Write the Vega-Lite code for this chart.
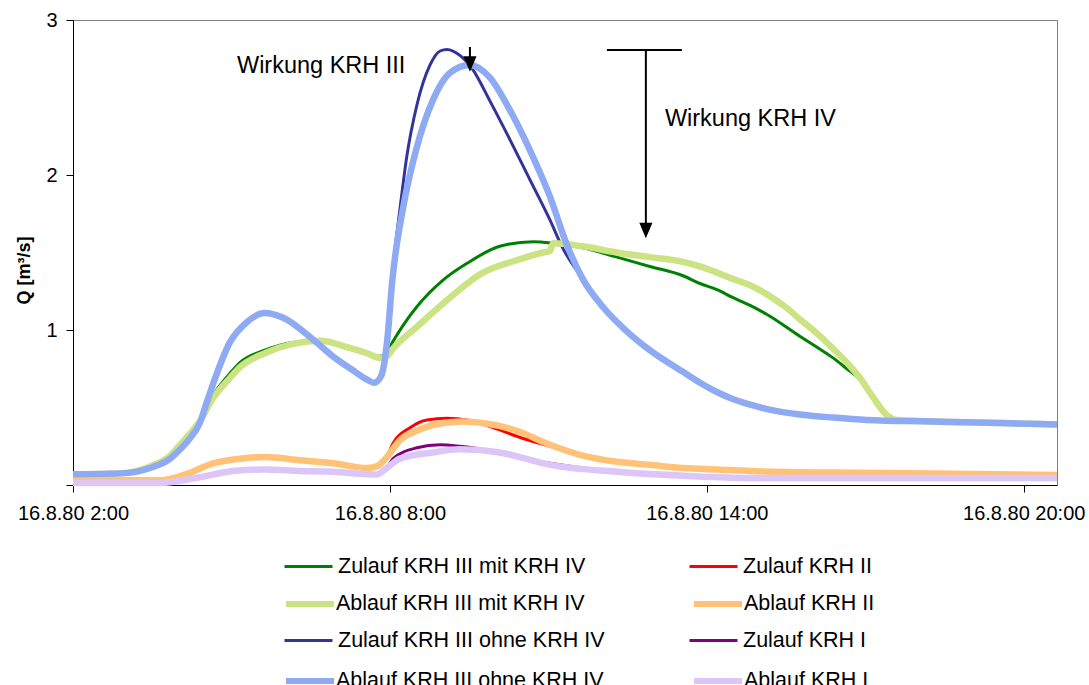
{
  "$schema": "https://vega.github.io/schema/vega-lite/v6.json",
  "width": 984,
  "height": 465,
  "autosize": {"type": "none"},
  "padding": {"left": 73, "top": 20, "right": 32, "bottom": 200},
  "background": "white",
  "config": {
    "view": {"stroke": "#808080", "strokeWidth": 1},
    "font": "Liberation Sans",
    "legend": {
      "orient": "none",
      "legendX": 210,
      "columns": 2,
      "symbolType": "stroke",
      "symbolSize": 2304,
      "symbolOpacity": 1,
      "labelFont": "Liberation Sans",
      "labelFontSize": 21.5,
      "labelColor": "black",
      "labelLimit": 500,
      "rowPadding": 38,
      "columnPadding": 78,
      "padding": 0,
      "title": null
    }
  },
  "datasets": {
    "zulauf": [
      {"s": "Zulauf KRH III mit KRH IV", "t": 2.00, "q": 0.07},
      {"s": "Zulauf KRH III mit KRH IV", "t": 2.89, "q": 0.075},
      {"s": "Zulauf KRH III mit KRH IV", "t": 3.46, "q": 0.12},
      {"s": "Zulauf KRH III mit KRH IV", "t": 3.84, "q": 0.19},
      {"s": "Zulauf KRH III mit KRH IV", "t": 4.03, "q": 0.25},
      {"s": "Zulauf KRH III mit KRH IV", "t": 4.21, "q": 0.33},
      {"s": "Zulauf KRH III mit KRH IV", "t": 4.40, "q": 0.42},
      {"s": "Zulauf KRH III mit KRH IV", "t": 4.65, "q": 0.58},
      {"s": "Zulauf KRH III mit KRH IV", "t": 4.97, "q": 0.72},
      {"s": "Zulauf KRH III mit KRH IV", "t": 5.16, "q": 0.79},
      {"s": "Zulauf KRH III mit KRH IV", "t": 5.63, "q": 0.87},
      {"s": "Zulauf KRH III mit KRH IV", "t": 6.16, "q": 0.92},
      {"s": "Zulauf KRH III mit KRH IV", "t": 6.68, "q": 0.93},
      {"s": "Zulauf KRH III mit KRH IV", "t": 7.19, "q": 0.88},
      {"s": "Zulauf KRH III mit KRH IV", "t": 7.57, "q": 0.85},
      {"s": "Zulauf KRH III mit KRH IV", "t": 7.81, "q": 0.83},
      {"s": "Zulauf KRH III mit KRH IV", "t": 7.94, "q": 0.85},
      {"s": "Zulauf KRH III mit KRH IV", "t": 8.00, "q": 0.89},
      {"s": "Zulauf KRH III mit KRH IV", "t": 8.25, "q": 1.03},
      {"s": "Zulauf KRH III mit KRH IV", "t": 8.51, "q": 1.15},
      {"s": "Zulauf KRH III mit KRH IV", "t": 9.00, "q": 1.32},
      {"s": "Zulauf KRH III mit KRH IV", "t": 9.46, "q": 1.43},
      {"s": "Zulauf KRH III mit KRH IV", "t": 10.08, "q": 1.54},
      {"s": "Zulauf KRH III mit KRH IV", "t": 10.71, "q": 1.57},
      {"s": "Zulauf KRH III mit KRH IV", "t": 11.09, "q": 1.56},
      {"s": "Zulauf KRH III mit KRH IV", "t": 11.65, "q": 1.53},
      {"s": "Zulauf KRH III mit KRH IV", "t": 12.30, "q": 1.47},
      {"s": "Zulauf KRH III mit KRH IV", "t": 12.92, "q": 1.41},
      {"s": "Zulauf KRH III mit KRH IV", "t": 13.55, "q": 1.35},
      {"s": "Zulauf KRH III mit KRH IV", "t": 13.87, "q": 1.30},
      {"s": "Zulauf KRH III mit KRH IV", "t": 14.19, "q": 1.26},
      {"s": "Zulauf KRH III mit KRH IV", "t": 14.49, "q": 1.21},
      {"s": "Zulauf KRH III mit KRH IV", "t": 14.81, "q": 1.16},
      {"s": "Zulauf KRH III mit KRH IV", "t": 15.14, "q": 1.10},
      {"s": "Zulauf KRH III mit KRH IV", "t": 15.76, "q": 0.96},
      {"s": "Zulauf KRH III mit KRH IV", "t": 16.08, "q": 0.89},
      {"s": "Zulauf KRH III mit KRH IV", "t": 16.39, "q": 0.82},
      {"s": "Zulauf KRH III mit KRH IV", "t": 16.65, "q": 0.75},
      {"s": "Zulauf KRH III mit KRH IV", "t": 16.90, "q": 0.68},
      {"s": "Zulauf KRH III mit KRH IV", "t": 17.14, "q": 0.57},
      {"s": "Zulauf KRH III mit KRH IV", "t": 17.41, "q": 0.45},
      {"s": "Zulauf KRH III mit KRH IV", "t": 17.60, "q": 0.42},
      {"s": "Zulauf KRH III mit KRH IV", "t": 18.28, "q": 0.41},
      {"s": "Zulauf KRH III mit KRH IV", "t": 19.55, "q": 0.40},
      {"s": "Zulauf KRH III mit KRH IV", "t": 20.63, "q": 0.39},

      {"s": "Zulauf KRH III ohne KRH IV", "t": 2.00, "q": 0.07},
      {"s": "Zulauf KRH III ohne KRH IV", "t": 2.89, "q": 0.075},
      {"s": "Zulauf KRH III ohne KRH IV", "t": 3.46, "q": 0.11},
      {"s": "Zulauf KRH III ohne KRH IV", "t": 3.84, "q": 0.17},
      {"s": "Zulauf KRH III ohne KRH IV", "t": 4.03, "q": 0.23},
      {"s": "Zulauf KRH III ohne KRH IV", "t": 4.21, "q": 0.30},
      {"s": "Zulauf KRH III ohne KRH IV", "t": 4.40, "q": 0.40},
      {"s": "Zulauf KRH III ohne KRH IV", "t": 4.52, "q": 0.52},
      {"s": "Zulauf KRH III ohne KRH IV", "t": 4.65, "q": 0.65},
      {"s": "Zulauf KRH III ohne KRH IV", "t": 4.97, "q": 0.92},
      {"s": "Zulauf KRH III ohne KRH IV", "t": 5.29, "q": 1.05},
      {"s": "Zulauf KRH III ohne KRH IV", "t": 5.63, "q": 1.11},
      {"s": "Zulauf KRH III ohne KRH IV", "t": 5.97, "q": 1.08},
      {"s": "Zulauf KRH III ohne KRH IV", "t": 6.54, "q": 0.94},
      {"s": "Zulauf KRH III ohne KRH IV", "t": 6.92, "q": 0.83},
      {"s": "Zulauf KRH III ohne KRH IV", "t": 7.30, "q": 0.74},
      {"s": "Zulauf KRH III ohne KRH IV", "t": 7.57, "q": 0.68},
      {"s": "Zulauf KRH III ohne KRH IV", "t": 7.70, "q": 0.66},
      {"s": "Zulauf KRH III ohne KRH IV", "t": 7.83, "q": 0.70},
      {"s": "Zulauf KRH III ohne KRH IV", "t": 7.90, "q": 0.80},
      {"s": "Zulauf KRH III ohne KRH IV", "t": 7.96, "q": 0.99},
      {"s": "Zulauf KRH III ohne KRH IV", "t": 8.02, "q": 1.25},
      {"s": "Zulauf KRH III ohne KRH IV", "t": 8.09, "q": 1.50},
      {"s": "Zulauf KRH III ohne KRH IV", "t": 8.19, "q": 1.78},
      {"s": "Zulauf KRH III ohne KRH IV", "t": 8.32, "q": 2.12},
      {"s": "Zulauf KRH III ohne KRH IV", "t": 8.51, "q": 2.45},
      {"s": "Zulauf KRH III ohne KRH IV", "t": 8.76, "q": 2.71},
      {"s": "Zulauf KRH III ohne KRH IV", "t": 8.95, "q": 2.80},
      {"s": "Zulauf KRH III ohne KRH IV", "t": 9.08, "q": 2.81},
      {"s": "Zulauf KRH III ohne KRH IV", "t": 9.33, "q": 2.77},
      {"s": "Zulauf KRH III ohne KRH IV", "t": 9.57, "q": 2.68},
      {"s": "Zulauf KRH III ohne KRH IV", "t": 9.89, "q": 2.48},
      {"s": "Zulauf KRH III ohne KRH IV", "t": 10.27, "q": 2.23},
      {"s": "Zulauf KRH III ohne KRH IV", "t": 10.65, "q": 1.97},
      {"s": "Zulauf KRH III ohne KRH IV", "t": 11.03, "q": 1.71},
      {"s": "Zulauf KRH III ohne KRH IV", "t": 11.27, "q": 1.53},
      {"s": "Zulauf KRH III ohne KRH IV", "t": 11.65, "q": 1.33},
      {"s": "Zulauf KRH III ohne KRH IV", "t": 12.03, "q": 1.15},
      {"s": "Zulauf KRH III ohne KRH IV", "t": 12.49, "q": 0.99},
      {"s": "Zulauf KRH III ohne KRH IV", "t": 12.92, "q": 0.87},
      {"s": "Zulauf KRH III ohne KRH IV", "t": 13.55, "q": 0.73},
      {"s": "Zulauf KRH III ohne KRH IV", "t": 13.87, "q": 0.66},
      {"s": "Zulauf KRH III ohne KRH IV", "t": 14.19, "q": 0.60},
      {"s": "Zulauf KRH III ohne KRH IV", "t": 14.49, "q": 0.555},
      {"s": "Zulauf KRH III ohne KRH IV", "t": 14.81, "q": 0.52},
      {"s": "Zulauf KRH III ohne KRH IV", "t": 15.14, "q": 0.49},
      {"s": "Zulauf KRH III ohne KRH IV", "t": 15.76, "q": 0.455},
      {"s": "Zulauf KRH III ohne KRH IV", "t": 16.39, "q": 0.435},
      {"s": "Zulauf KRH III ohne KRH IV", "t": 17.03, "q": 0.42},
      {"s": "Zulauf KRH III ohne KRH IV", "t": 18.28, "q": 0.41},
      {"s": "Zulauf KRH III ohne KRH IV", "t": 19.55, "q": 0.40},
      {"s": "Zulauf KRH III ohne KRH IV", "t": 20.63, "q": 0.39},

      {"s": "Zulauf KRH II", "t": 2.00, "q": 0.03},
      {"s": "Zulauf KRH II", "t": 3.65, "q": 0.03},
      {"s": "Zulauf KRH II", "t": 4.14, "q": 0.07},
      {"s": "Zulauf KRH II", "t": 4.65, "q": 0.14},
      {"s": "Zulauf KRH II", "t": 5.16, "q": 0.17},
      {"s": "Zulauf KRH II", "t": 5.63, "q": 0.18},
      {"s": "Zulauf KRH II", "t": 6.30, "q": 0.16},
      {"s": "Zulauf KRH II", "t": 6.92, "q": 0.14},
      {"s": "Zulauf KRH II", "t": 7.57, "q": 0.11},
      {"s": "Zulauf KRH II", "t": 7.75, "q": 0.12},
      {"s": "Zulauf KRH II", "t": 7.94, "q": 0.18},
      {"s": "Zulauf KRH II", "t": 8.06, "q": 0.27},
      {"s": "Zulauf KRH II", "t": 8.38, "q": 0.37},
      {"s": "Zulauf KRH II", "t": 8.70, "q": 0.42},
      {"s": "Zulauf KRH II", "t": 9.08, "q": 0.43},
      {"s": "Zulauf KRH II", "t": 9.46, "q": 0.42},
      {"s": "Zulauf KRH II", "t": 9.95, "q": 0.37},
      {"s": "Zulauf KRH II", "t": 10.52, "q": 0.30},
      {"s": "Zulauf KRH II", "t": 11.03, "q": 0.25},
      {"s": "Zulauf KRH II", "t": 11.65, "q": 0.19},
      {"s": "Zulauf KRH II", "t": 12.30, "q": 0.15},
      {"s": "Zulauf KRH II", "t": 12.92, "q": 0.13},
      {"s": "Zulauf KRH II", "t": 13.55, "q": 0.11},
      {"s": "Zulauf KRH II", "t": 14.19, "q": 0.10},
      {"s": "Zulauf KRH II", "t": 14.81, "q": 0.09},
      {"s": "Zulauf KRH II", "t": 16.39, "q": 0.08},
      {"s": "Zulauf KRH II", "t": 18.28, "q": 0.075},
      {"s": "Zulauf KRH II", "t": 20.63, "q": 0.065},

      {"s": "Zulauf KRH I", "t": 2.00, "q": 0.013},
      {"s": "Zulauf KRH I", "t": 3.65, "q": 0.013},
      {"s": "Zulauf KRH I", "t": 4.40, "q": 0.05},
      {"s": "Zulauf KRH I", "t": 5.03, "q": 0.09},
      {"s": "Zulauf KRH I", "t": 5.63, "q": 0.10},
      {"s": "Zulauf KRH I", "t": 6.30, "q": 0.09},
      {"s": "Zulauf KRH I", "t": 6.92, "q": 0.085},
      {"s": "Zulauf KRH I", "t": 7.57, "q": 0.07},
      {"s": "Zulauf KRH I", "t": 7.75, "q": 0.068},
      {"s": "Zulauf KRH I", "t": 7.94, "q": 0.11},
      {"s": "Zulauf KRH I", "t": 8.06, "q": 0.17},
      {"s": "Zulauf KRH I", "t": 8.51, "q": 0.24},
      {"s": "Zulauf KRH I", "t": 8.95, "q": 0.26},
      {"s": "Zulauf KRH I", "t": 9.33, "q": 0.25},
      {"s": "Zulauf KRH I", "t": 10.08, "q": 0.21},
      {"s": "Zulauf KRH I", "t": 10.71, "q": 0.16},
      {"s": "Zulauf KRH I", "t": 11.22, "q": 0.13},
      {"s": "Zulauf KRH I", "t": 12.30, "q": 0.085},
      {"s": "Zulauf KRH I", "t": 13.55, "q": 0.06},
      {"s": "Zulauf KRH I", "t": 14.81, "q": 0.045},
      {"s": "Zulauf KRH I", "t": 17.03, "q": 0.045},
      {"s": "Zulauf KRH I", "t": 20.63, "q": 0.045}
    ],
    "ablauf": [
      {"s": "Ablauf KRH III mit KRH IV", "t": 2.00, "q": 0.07},
      {"s": "Ablauf KRH III mit KRH IV", "t": 2.89, "q": 0.075},
      {"s": "Ablauf KRH III mit KRH IV", "t": 3.46, "q": 0.12},
      {"s": "Ablauf KRH III mit KRH IV", "t": 3.84, "q": 0.19},
      {"s": "Ablauf KRH III mit KRH IV", "t": 4.03, "q": 0.26},
      {"s": "Ablauf KRH III mit KRH IV", "t": 4.21, "q": 0.33},
      {"s": "Ablauf KRH III mit KRH IV", "t": 4.40, "q": 0.41},
      {"s": "Ablauf KRH III mit KRH IV", "t": 4.65, "q": 0.56},
      {"s": "Ablauf KRH III mit KRH IV", "t": 4.97, "q": 0.69},
      {"s": "Ablauf KRH III mit KRH IV", "t": 5.16, "q": 0.76},
      {"s": "Ablauf KRH III mit KRH IV", "t": 5.63, "q": 0.85},
      {"s": "Ablauf KRH III mit KRH IV", "t": 6.16, "q": 0.91},
      {"s": "Ablauf KRH III mit KRH IV", "t": 6.68, "q": 0.93},
      {"s": "Ablauf KRH III mit KRH IV", "t": 7.19, "q": 0.89},
      {"s": "Ablauf KRH III mit KRH IV", "t": 7.57, "q": 0.85},
      {"s": "Ablauf KRH III mit KRH IV", "t": 7.81, "q": 0.82},
      {"s": "Ablauf KRH III mit KRH IV", "t": 7.94, "q": 0.83},
      {"s": "Ablauf KRH III mit KRH IV", "t": 8.06, "q": 0.88},
      {"s": "Ablauf KRH III mit KRH IV", "t": 8.51, "q": 1.02},
      {"s": "Ablauf KRH III mit KRH IV", "t": 9.14, "q": 1.21},
      {"s": "Ablauf KRH III mit KRH IV", "t": 9.76, "q": 1.37},
      {"s": "Ablauf KRH III mit KRH IV", "t": 10.40, "q": 1.45},
      {"s": "Ablauf KRH III mit KRH IV", "t": 10.90, "q": 1.50},
      {"s": "Ablauf KRH III mit KRH IV", "t": 11.03, "q": 1.51},
      {"s": "Ablauf KRH III mit KRH IV", "t": 11.09, "q": 1.56},
      {"s": "Ablauf KRH III mit KRH IV", "t": 11.65, "q": 1.54},
      {"s": "Ablauf KRH III mit KRH IV", "t": 12.30, "q": 1.50},
      {"s": "Ablauf KRH III mit KRH IV", "t": 12.92, "q": 1.47},
      {"s": "Ablauf KRH III mit KRH IV", "t": 13.55, "q": 1.44},
      {"s": "Ablauf KRH III mit KRH IV", "t": 13.87, "q": 1.41},
      {"s": "Ablauf KRH III mit KRH IV", "t": 14.19, "q": 1.37},
      {"s": "Ablauf KRH III mit KRH IV", "t": 14.49, "q": 1.33},
      {"s": "Ablauf KRH III mit KRH IV", "t": 14.81, "q": 1.29},
      {"s": "Ablauf KRH III mit KRH IV", "t": 15.14, "q": 1.23},
      {"s": "Ablauf KRH III mit KRH IV", "t": 15.52, "q": 1.14},
      {"s": "Ablauf KRH III mit KRH IV", "t": 15.76, "q": 1.07},
      {"s": "Ablauf KRH III mit KRH IV", "t": 16.08, "q": 0.98},
      {"s": "Ablauf KRH III mit KRH IV", "t": 16.39, "q": 0.88},
      {"s": "Ablauf KRH III mit KRH IV", "t": 16.65, "q": 0.79},
      {"s": "Ablauf KRH III mit KRH IV", "t": 16.90, "q": 0.69},
      {"s": "Ablauf KRH III mit KRH IV", "t": 17.14, "q": 0.57},
      {"s": "Ablauf KRH III mit KRH IV", "t": 17.41, "q": 0.45},
      {"s": "Ablauf KRH III mit KRH IV", "t": 17.60, "q": 0.42},
      {"s": "Ablauf KRH III mit KRH IV", "t": 18.28, "q": 0.41},
      {"s": "Ablauf KRH III mit KRH IV", "t": 19.55, "q": 0.40},
      {"s": "Ablauf KRH III mit KRH IV", "t": 20.63, "q": 0.39},

      {"s": "Ablauf KRH II", "t": 2.00, "q": 0.03},
      {"s": "Ablauf KRH II", "t": 3.65, "q": 0.03},
      {"s": "Ablauf KRH II", "t": 4.14, "q": 0.07},
      {"s": "Ablauf KRH II", "t": 4.65, "q": 0.14},
      {"s": "Ablauf KRH II", "t": 5.16, "q": 0.17},
      {"s": "Ablauf KRH II", "t": 5.63, "q": 0.18},
      {"s": "Ablauf KRH II", "t": 6.30, "q": 0.16},
      {"s": "Ablauf KRH II", "t": 6.92, "q": 0.14},
      {"s": "Ablauf KRH II", "t": 7.57, "q": 0.11},
      {"s": "Ablauf KRH II", "t": 7.75, "q": 0.12},
      {"s": "Ablauf KRH II", "t": 7.94, "q": 0.18},
      {"s": "Ablauf KRH II", "t": 8.19, "q": 0.29},
      {"s": "Ablauf KRH II", "t": 8.51, "q": 0.35},
      {"s": "Ablauf KRH II", "t": 9.00, "q": 0.40},
      {"s": "Ablauf KRH II", "t": 9.38, "q": 0.41},
      {"s": "Ablauf KRH II", "t": 9.76, "q": 0.40},
      {"s": "Ablauf KRH II", "t": 10.40, "q": 0.35},
      {"s": "Ablauf KRH II", "t": 11.03, "q": 0.26},
      {"s": "Ablauf KRH II", "t": 11.65, "q": 0.19},
      {"s": "Ablauf KRH II", "t": 12.30, "q": 0.15},
      {"s": "Ablauf KRH II", "t": 12.92, "q": 0.13},
      {"s": "Ablauf KRH II", "t": 13.55, "q": 0.11},
      {"s": "Ablauf KRH II", "t": 14.19, "q": 0.10},
      {"s": "Ablauf KRH II", "t": 14.81, "q": 0.09},
      {"s": "Ablauf KRH II", "t": 16.39, "q": 0.08},
      {"s": "Ablauf KRH II", "t": 18.28, "q": 0.075},
      {"s": "Ablauf KRH II", "t": 20.63, "q": 0.065},

      {"s": "Ablauf KRH III ohne KRH IV", "t": 2.00, "q": 0.07},
      {"s": "Ablauf KRH III ohne KRH IV", "t": 2.89, "q": 0.075},
      {"s": "Ablauf KRH III ohne KRH IV", "t": 3.46, "q": 0.11},
      {"s": "Ablauf KRH III ohne KRH IV", "t": 3.84, "q": 0.17},
      {"s": "Ablauf KRH III ohne KRH IV", "t": 4.03, "q": 0.23},
      {"s": "Ablauf KRH III ohne KRH IV", "t": 4.21, "q": 0.30},
      {"s": "Ablauf KRH III ohne KRH IV", "t": 4.40, "q": 0.40},
      {"s": "Ablauf KRH III ohne KRH IV", "t": 4.52, "q": 0.52},
      {"s": "Ablauf KRH III ohne KRH IV", "t": 4.65, "q": 0.65},
      {"s": "Ablauf KRH III ohne KRH IV", "t": 4.97, "q": 0.92},
      {"s": "Ablauf KRH III ohne KRH IV", "t": 5.29, "q": 1.05},
      {"s": "Ablauf KRH III ohne KRH IV", "t": 5.63, "q": 1.11},
      {"s": "Ablauf KRH III ohne KRH IV", "t": 5.97, "q": 1.08},
      {"s": "Ablauf KRH III ohne KRH IV", "t": 6.54, "q": 0.94},
      {"s": "Ablauf KRH III ohne KRH IV", "t": 6.92, "q": 0.83},
      {"s": "Ablauf KRH III ohne KRH IV", "t": 7.30, "q": 0.74},
      {"s": "Ablauf KRH III ohne KRH IV", "t": 7.57, "q": 0.68},
      {"s": "Ablauf KRH III ohne KRH IV", "t": 7.70, "q": 0.66},
      {"s": "Ablauf KRH III ohne KRH IV", "t": 7.83, "q": 0.70},
      {"s": "Ablauf KRH III ohne KRH IV", "t": 7.90, "q": 0.80},
      {"s": "Ablauf KRH III ohne KRH IV", "t": 7.96, "q": 0.97},
      {"s": "Ablauf KRH III ohne KRH IV", "t": 8.04, "q": 1.30},
      {"s": "Ablauf KRH III ohne KRH IV", "t": 8.09, "q": 1.45},
      {"s": "Ablauf KRH III ohne KRH IV", "t": 8.25, "q": 1.79},
      {"s": "Ablauf KRH III ohne KRH IV", "t": 8.51, "q": 2.18},
      {"s": "Ablauf KRH III ohne KRH IV", "t": 8.81, "q": 2.48},
      {"s": "Ablauf KRH III ohne KRH IV", "t": 9.14, "q": 2.66},
      {"s": "Ablauf KRH III ohne KRH IV", "t": 9.51, "q": 2.71},
      {"s": "Ablauf KRH III ohne KRH IV", "t": 9.89, "q": 2.63},
      {"s": "Ablauf KRH III ohne KRH IV", "t": 10.27, "q": 2.42},
      {"s": "Ablauf KRH III ohne KRH IV", "t": 10.65, "q": 2.16},
      {"s": "Ablauf KRH III ohne KRH IV", "t": 11.03, "q": 1.86},
      {"s": "Ablauf KRH III ohne KRH IV", "t": 11.35, "q": 1.55},
      {"s": "Ablauf KRH III ohne KRH IV", "t": 11.65, "q": 1.33},
      {"s": "Ablauf KRH III ohne KRH IV", "t": 12.03, "q": 1.15},
      {"s": "Ablauf KRH III ohne KRH IV", "t": 12.49, "q": 0.99},
      {"s": "Ablauf KRH III ohne KRH IV", "t": 12.92, "q": 0.87},
      {"s": "Ablauf KRH III ohne KRH IV", "t": 13.55, "q": 0.73},
      {"s": "Ablauf KRH III ohne KRH IV", "t": 13.87, "q": 0.66},
      {"s": "Ablauf KRH III ohne KRH IV", "t": 14.19, "q": 0.60},
      {"s": "Ablauf KRH III ohne KRH IV", "t": 14.49, "q": 0.555},
      {"s": "Ablauf KRH III ohne KRH IV", "t": 14.81, "q": 0.52},
      {"s": "Ablauf KRH III ohne KRH IV", "t": 15.14, "q": 0.49},
      {"s": "Ablauf KRH III ohne KRH IV", "t": 15.76, "q": 0.455},
      {"s": "Ablauf KRH III ohne KRH IV", "t": 16.39, "q": 0.435},
      {"s": "Ablauf KRH III ohne KRH IV", "t": 17.03, "q": 0.42},
      {"s": "Ablauf KRH III ohne KRH IV", "t": 18.28, "q": 0.41},
      {"s": "Ablauf KRH III ohne KRH IV", "t": 19.55, "q": 0.40},
      {"s": "Ablauf KRH III ohne KRH IV", "t": 20.63, "q": 0.39},

      {"s": "Ablauf KRH I", "t": 2.00, "q": 0.013},
      {"s": "Ablauf KRH I", "t": 3.65, "q": 0.013},
      {"s": "Ablauf KRH I", "t": 4.40, "q": 0.05},
      {"s": "Ablauf KRH I", "t": 5.03, "q": 0.09},
      {"s": "Ablauf KRH I", "t": 5.63, "q": 0.10},
      {"s": "Ablauf KRH I", "t": 6.30, "q": 0.09},
      {"s": "Ablauf KRH I", "t": 6.92, "q": 0.085},
      {"s": "Ablauf KRH I", "t": 7.57, "q": 0.07},
      {"s": "Ablauf KRH I", "t": 7.75, "q": 0.068},
      {"s": "Ablauf KRH I", "t": 7.94, "q": 0.11},
      {"s": "Ablauf KRH I", "t": 8.19, "q": 0.17},
      {"s": "Ablauf KRH I", "t": 8.81, "q": 0.21},
      {"s": "Ablauf KRH I", "t": 9.33, "q": 0.23},
      {"s": "Ablauf KRH I", "t": 10.08, "q": 0.21},
      {"s": "Ablauf KRH I", "t": 11.03, "q": 0.13},
      {"s": "Ablauf KRH I", "t": 12.30, "q": 0.085},
      {"s": "Ablauf KRH I", "t": 13.55, "q": 0.06},
      {"s": "Ablauf KRH I", "t": 14.81, "q": 0.045},
      {"s": "Ablauf KRH I", "t": 17.03, "q": 0.045},
      {"s": "Ablauf KRH I", "t": 20.63, "q": 0.045}
    ],
    "pfeile": [
      {"t": 9.515, "t2": 9.515, "q": 2.826, "q2": 2.75},
      {"t": 12.108, "t2": 13.527, "q": 2.806, "q2": 2.806},
      {"t": 12.846, "t2": 12.846, "q": 2.806, "q2": 1.68}
    ],
    "spitzen": [
      {"t": 9.515, "q": 2.716},
      {"t": 12.846, "q": 1.642}
    ],
    "texte": [
      {"t": 5.104, "q": 2.703, "label": "Wirkung KRH III"},
      {"t": 13.206, "q": 2.361, "label": "Wirkung KRH IV"}
    ]
  },
  "encoding": {
    "x": {
      "field": "t",
      "type": "quantitative",
      "scale": {"domain": [2, 20.63], "nice": false, "zero": false},
      "axis": {
        "values": [2, 8, 14, 20],
        "labelExpr": "'16.8.80 ' + datum.value + ':00'",
        "title": null,
        "grid": false,
        "labelFont": "Liberation Sans",
        "labelFontSize": 20,
        "labelColor": "black",
        "labelFlush": false,
        "labelOverlap": false,
        "labelBound": false,
        "labelPadding": 11,
        "tickSize": 7,
        "tickColor": "black",
        "domainColor": "black"
      }
    },
    "y": {
      "field": "q",
      "type": "quantitative",
      "scale": {"domain": [0, 3], "nice": false, "zero": true},
      "axis": {
        "values": [0, 1, 2, 3],
        "labelExpr": "datum.value == 0 ? '' : datum.label",
        "title": "Q [m³/s]",
        "titleFont": "Liberation Sans",
        "titleFontSize": 18,
        "titleFontWeight": "bold",
        "titleColor": "black",
        "titleX": -40,
        "titleY": 250,
        "grid": false,
        "labelFont": "Liberation Sans",
        "labelFontSize": 20,
        "labelColor": "black",
        "labelPadding": 9,
        "tickSize": 7,
        "tickColor": "black",
        "domainColor": "black"
      }
    }
  },
  "layer": [
    {
      "data": {"name": "zulauf"},
      "mark": {"type": "line", "interpolate": "monotone", "strokeWidth": 3, "strokeJoin": "round"},
      "encoding": {
        "color": {
          "field": "s",
          "type": "nominal",
          "scale": {
            "domain": ["Zulauf KRH III mit KRH IV", "Zulauf KRH III ohne KRH IV", "Zulauf KRH II", "Zulauf KRH I"],
            "range": ["#008000", "#333399", "#ff0000", "#800080"]
          },
          "legend": {"legendY": 521, "symbolStrokeWidth": 3, "labelOffset": 4}
        }
      }
    },
    {
      "data": {"name": "ablauf"},
      "mark": {"type": "line", "interpolate": "monotone", "strokeWidth": 6.5, "strokeJoin": "round"},
      "encoding": {
        "stroke": {
          "field": "s",
          "type": "nominal",
          "scale": {
            "domain": ["Ablauf KRH III mit KRH IV", "Ablauf KRH III ohne KRH IV", "Ablauf KRH II", "Ablauf KRH I"],
            "range": ["#cbe383", "#8eaaf3", "#ffc277", "#dcc6f8"]
          },
          "legend": {"legendY": 557, "symbolStrokeWidth": 6, "labelOffset": -1}
        }
      }
    },
    {
      "data": {"name": "pfeile"},
      "mark": {"type": "rule", "color": "black", "strokeWidth": 2},
      "encoding": {
        "x2": {"field": "t2"},
        "y2": {"field": "q2"}
      }
    },
    {
      "data": {"name": "spitzen"},
      "mark": {"type": "point", "shape": "M-0.85,-1L0.85,-1L0,1Z", "filled": true, "color": "black", "opacity": 1, "size": 240, "strokeWidth": 0}
    },
    {
      "data": {"name": "texte"},
      "mark": {"type": "text", "align": "left", "baseline": "middle", "font": "Liberation Sans", "fontSize": 23.5, "color": "black"},
      "encoding": {"text": {"field": "label"}}
    }
  ]
}
